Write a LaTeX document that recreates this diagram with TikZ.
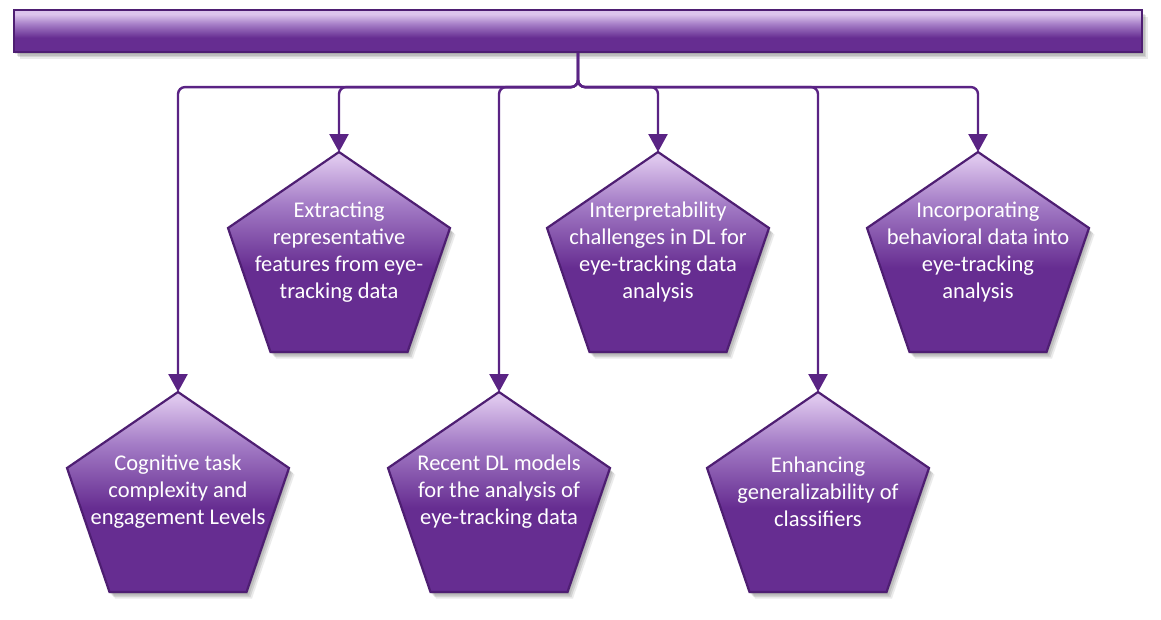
\documentclass[tikz,border=0pt]{standalone}
\usepackage{fontspec}
\setmainfont{Carlito}
\usetikzlibrary{arrows.meta}
\definecolor{pdark}{HTML}{662D91}
\definecolor{pmid}{HTML}{A47CC6}
\definecolor{plight}{HTML}{DCC4EC}
\definecolor{pline}{HTML}{5A2384}
\definecolor{pborder}{HTML}{4E1E72}
\pgfdeclareverticalshading{pentshade}{100bp}{color(0bp)=(pdark); color(46bp)=(pdark); color(62bp)=(pmid); color(73bp)=(plight); color(100bp)=(plight)}
\pgfdeclareverticalshading{barshade}{100bp}{color(0bp)=(pdark); color(42bp)=(pdark); color(58bp)=(pmid); color(70bp)=(plight); color(100bp)=(plight)}
\newcommand\pentagonshape[4]{%
  \foreach \d/\o in {1/0.10,2.5/0.10,4/0.10,5.5/0.08}{%
    \fill[black,opacity=\o] ({#1+\d},{#2+\d+1}) -- ++(111,76) -- ++(-42.5,124) -- ++(-137,0) -- ++(-42.5,-124) -- cycle;}
  \coordinate (#3-top) at (#1,#2);
  \path[pentfill] (#3-top) -- ++(111,76) -- ++(-42.5,124) -- ++(-137,0) -- ++(-42.5,-124) -- cycle;
  \node[pentext] (#3) at (#1,{#2+100}) {#4};
}
\begin{document}
\begin{tikzpicture}[x=1pt,y=-1pt,
  conn/.style={draw=pline,line width=2.4pt,rounded corners=7pt,-{Triangle[width=19pt,length=18pt]}},
  pentfill/.style={shading=pentshade,draw=pborder,line width=2.2pt,line join=miter},
  pentext/.style={text=white,align=center,font=\fontsize{22.5}{27}\selectfont,inner sep=0pt},
  barstyle/.style={draw=pborder,line width=2.2pt,shading=barshade,minimum width=1128pt,minimum height=42pt,inner sep=0pt}]
\useasboundingbox (0,0) rectangle (1161,619);
% bar shadow
\foreach \d/\o in {1/0.10,2.5/0.10,4/0.10,5.5/0.08}{%
  \fill[black,opacity=\o] ({14+\d},{10+\d+1}) rectangle ({1142+\d},{52+\d+1});}
\node[barstyle] (bar) at (578,31) {};
% pentagons
\pentagonshape{339}{152}{P1}{Extracting\\representative\\features from eye-\\tracking data}
\pentagonshape{658}{152}{P2}{Interpretability\\challenges in DL for\\eye-tracking data\\analysis}
\pentagonshape{978}{152}{P3}{Incorporating\\behavioral data into\\eye-tracking\\analysis}
\pentagonshape{178}{392}{L1}{Cognitive task\\complexity and\\engagement Levels}
\pentagonshape{499}{392}{L2}{Recent DL models\\for the analysis of\\eye-tracking data}
\pentagonshape{818}{392}{L3}{Enhancing\\generalizability of\\classifiers}
% connectors
\draw[conn] (bar.south) -- ++(0,34) -| (L1-top);
\draw[conn] (bar.south) -- ++(0,34) -| (P1-top);
\draw[conn] (bar.south) -- ++(0,34) -| (L2-top);
\draw[conn] (bar.south) -- ++(0,34) -| (P2-top);
\draw[conn] (bar.south) -- ++(0,34) -| (L3-top);
\draw[conn] (bar.south) -- ++(0,34) -| (P3-top);
\end{tikzpicture}
\end{document}
